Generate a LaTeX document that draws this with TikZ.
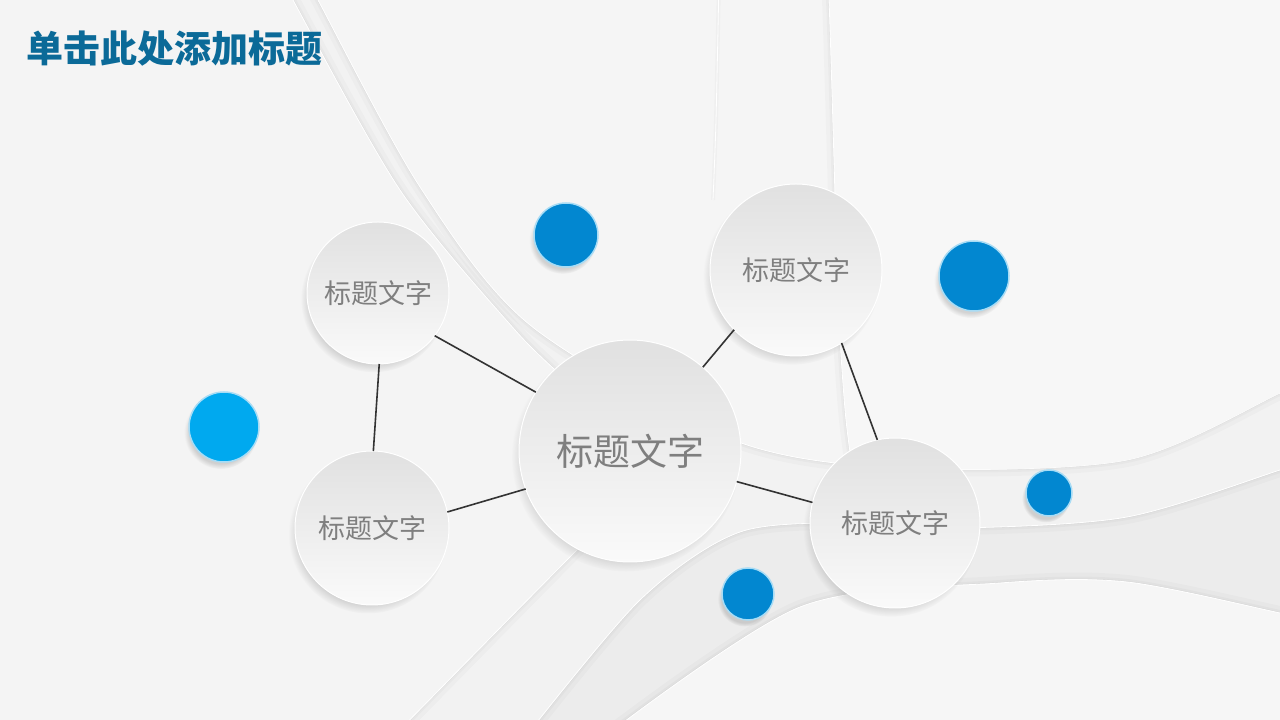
\documentclass[tikz,border=0pt]{standalone}
\usepackage{fontspec}
\setmainfont{Noto Sans CJK SC}
\usetikzlibrary{positioning, shadows}

\definecolor{bgband}{HTML}{ECECEC}
\definecolor{sheetA}{HTML}{F2F2F2}
\definecolor{sheetB}{HTML}{F5F5F5}
\definecolor{sheetC}{HTML}{F7F7F7}
\definecolor{sheetD}{HTML}{F6F6F6}
\definecolor{sheetE}{HTML}{F4F4F4}
\definecolor{titleblue}{HTML}{0B6A98}
\definecolor{txtgray}{HTML}{7F7F7F}
\definecolor{dotblue}{HTML}{0287D0}
\definecolor{dotsky}{HTML}{00A9EF}
\definecolor{dotrim}{HTML}{A8DCF5}
\definecolor{linegray}{HTML}{333333}

\begin{document}
\begin{tikzpicture}
	[x=1pt, y=1pt, on grid,
	 sheet/.style={draw=white, line width=.8pt,
	   preaction={draw=black, opacity=.018, line width=14pt},
	   preaction={draw=black, opacity=.022, line width=6pt},
	   preaction={draw=black, opacity=.03, line width=2pt}},
	 bubble/.style={circle, inner sep=0pt, outer sep=0pt, draw=white, line width=1pt,
	   top color=black!12, bottom color=black!2, text=txtgray,
	   font=\fontsize{27}{30}\selectfont,
	   circular drop shadow={shadow xshift=-4pt, shadow yshift=-6pt, shadow scale=1.03, opacity=.35}},
	 dot/.style={circle, inner sep=0pt, outer sep=0pt, fill=dotblue, draw=dotrim, line width=1.5pt,
	   circular drop shadow={shadow xshift=-3pt, shadow yshift=-5pt, shadow scale=1.05, opacity=.3}},
	 link/.style={draw=linegray, line width=1.6pt}]
   \useasboundingbox (0,0) rectangle (1280,720);

   % paper sheets in the background
   \begin{scope}
   \clip (0,0) rectangle (1280,720);
   \fill[bgband] (0,0) rectangle (1280,720);
   \path[sheet, fill=sheetA] plot[smooth] coordinates {(523,-20) (640,120) (740,188) (860,197) (960,192) (1127,203) (1280,250) (1300,258)} -- (1300,740) -- (-20,740) -- (-20,-20) -- cycle;
   \path[sheet, fill=sheetD] plot[smooth] coordinates {(600,-20) (800,113) (1000,137) (1127,138) (1280,107) (1300,102)} -- (1300,-20) -- cycle;
   \path[sheet, fill=sheetB] plot[smooth] coordinates {(308,740) (318,720) (420,533) (530,395) (733,280) (900,252) (1127,260) (1280,327) (1300,337)} -- (1300,740) -- cycle;
   \begin{scope}
     \clip plot[smooth] coordinates {(308,740) (318,720) (420,533) (530,395) (733,280) (900,252) (1127,260) (1280,327) (1300,337)} -- (1300,740) -- cycle;
     \path[sheet, fill=sheetC] plot[smooth] coordinates {(826,740) (829,720) (834,560) (838,420) (846,300) (860,200)} -- (1320,150) -- (1320,760) -- cycle;
   \end{scope}
   \path[sheet, fill=sheetE] plot[smooth] coordinates {(285,740) (293,720) (400,530) (515,390) (585,320) (640,240) (600,190) (570,163) (390,-20)} -- (-20,-20) -- (-20,740) -- cycle;
   \draw[white, line width=.8pt, preaction={draw=black, opacity=.025, line width=4pt}] plot[smooth] coordinates {(719,740) (716,600) (713,520)};
   \end{scope}

   % title
   \node[anchor=west, text=titleblue, font=\bfseries\fontsize{37}{40}\selectfont] (title) at (23,671) {单击此处添加标题};

   % bubbles
   \node[bubble, minimum size=222pt, font=\fontsize{37}{40}\selectfont] (b_0) at (630,269) {标题文字};
   \node[bubble, minimum size=142pt] (b_1) [above left=158pt and 252pt of b_0] {标题文字};
   \node[bubble, minimum size=154pt] (b_2) [below left=77pt and 258pt of b_0] {标题文字};
   \node[bubble, minimum size=172pt] (b_3) [above right=181pt and 166pt of b_0] {标题文字};
   \node[bubble, minimum size=170pt] (b_4) [below right=72pt and 265pt of b_0] {标题文字};

   % blue dots
   \node[dot, minimum size=64pt] (d_1) at (566,485) {};
   \node[dot, minimum size=70pt] (d_2) at (974,444) {};
   \node[dot, fill=dotsky, minimum size=70pt] (d_3) at (224,293) {};
   \node[dot, minimum size=46pt] (d_4) at (1049,227) {};
   \node[dot, minimum size=52pt] (d_5) at (748,126) {};

   \path[link]
    (b_1.-37) edge (b_0.148)
    (b_1.-89) edge (b_2.89)
    (b_2.12)  edge (b_0.-160)
    (b_0.49)  edge (b_3.224)
    (b_3.-58) edge (b_4.102)
    (b_0.-16) edge (b_4.166);
\end{tikzpicture}
\end{document}
